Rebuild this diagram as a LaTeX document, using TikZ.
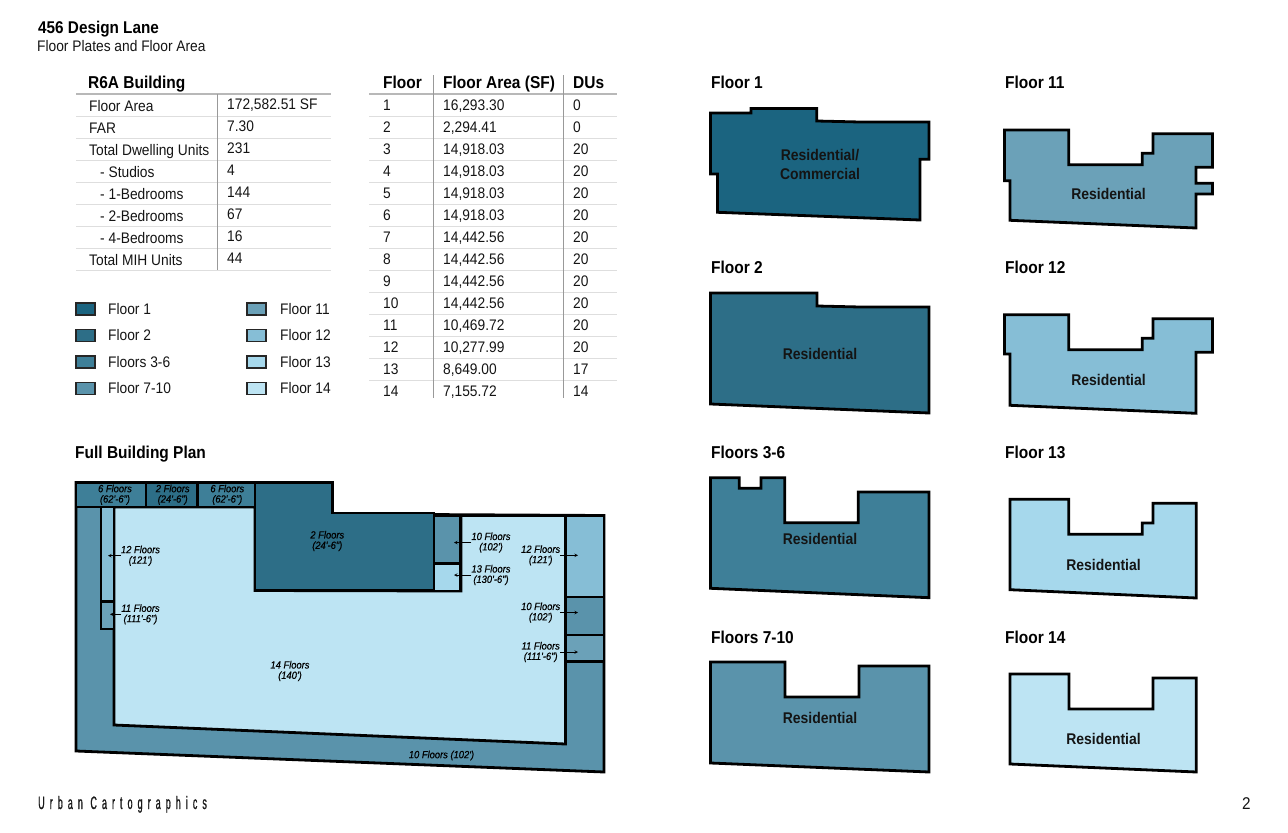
\documentclass[tikz,border=0pt]{standalone}
\usepackage{fontspec}
\setmainfont[FakeStretch=0.9]{Liberation Sans}
\newfontfamily\planfont[FakeStretch=0.9,FakeBold=0.5]{Liberation Sans}
\newfontfamily\footfont[LetterSpace=28,FakeStretch=0.5,FakeBold=0.8]{Liberation Sans}
\usepackage{tikz}
\usetikzlibrary{positioning}
\definecolor{fone}{HTML}{1B6480}
\definecolor{ftwo}{HTML}{2D6E87}
\definecolor{fthree}{HTML}{3E7F98}
\definecolor{fseven}{HTML}{5A93AB}
\definecolor{feleven}{HTML}{6BA1B8}
\definecolor{ftwelve}{HTML}{86BED6}
\definecolor{fthirteen}{HTML}{A6D8EC}
\definecolor{ffourteen}{HTML}{BDE4F3}
\newcommand{\fsz}[1]{\fontsize{#1bp}{#1bp}\selectfont}
\tikzstyle{plate}=[
  draw=black,line width=2.8bp
]
\tikzstyle{swatch}=[
  draw=black!85,line width=1.3bp
]
\tikzstyle{heading}=[
  anchor=base west,inner sep=0pt,font=\fsz{17.2}\bfseries,text=black
]
\tikzstyle{cell}=[
  anchor=base west,inner sep=0pt,font=\fsz{15.3},text=black!92
]
\tikzstyle{usage}=[
  inner sep=0pt,align=center,font=\fsz{15.5}\bfseries,text=black!92
]
\tikzstyle{height}=[
  inner sep=0pt,align=center,font=\fsz{10.4}\planfont\itshape,text=black
]
\tikzstyle{leader}=[
  ->,>=stealth,line width=0.6bp
]
\tikzstyle{rowrule}=[
  draw=black!13,line width=0.8bp
]
\tikzstyle{headrule}=[
  draw=black!28,line width=1.4bp
]
\tikzstyle{colrule}=[
  draw=black!40,line width=0.8bp
]
\begin{document}
\begin{tikzpicture}[x=1bp,y=-1bp]
  \useasboundingbox (0,0) rectangle (1288,833);

  % title
  \node (title) at (38,33) [heading,font=\fsz{17}\bfseries] {456 Design Lane};
  \node (subtitle) at (37,51.5) [cell] {Floor Plates and Floor Area};

  % summary table
  \node (summary) at (88,88.5) [heading] {R6A Building};
  \draw [headrule] (76,94) -- (331,94);
  \foreach \k in {116,138,...,270}
    \draw [rowrule] (76,\k) -- (331,\k);
  \draw [colrule] (217,94) -- (217,270);
  \foreach \lab/\val/\ind [count=\i from 0] in {
      Floor Area/172{,}582.51 SF/89, FAR/7.30/89, Total Dwelling Units/231/89,
      - Studios/4/100, - 1-Bedrooms/144/100, - 2-Bedrooms/67/100,
      - 4-Bedrooms/16/100, Total MIH Units/44/89} {
    \node (lab\i) at (\ind,111.7+22*\i) [cell] {\lab};
    \node (val\i) at (227,109.3+22*\i) [cell] {\val};
  }

  % floor table
  \node (hfloor) at (383,88.5) [heading] {Floor};
  \node (harea) at (443,88.5) [heading] {Floor Area (SF)};
  \node (hdu) at (573,88.5) [heading] {DUs};
  \draw [headrule] (369,94) -- (617,94);
  \foreach \k in {116,138,...,398}
    \draw [rowrule] (369,\k) -- (617,\k);
  \draw [colrule] (433,75) -- (433,398);
  \draw [colrule] (563,75) -- (563,398);
  \foreach \ar/\du [count=\i from 1] in {
      16{,}293.30/0, 2{,}294.41/0, 14{,}918.03/20, 14{,}918.03/20, 14{,}918.03/20,
      14{,}918.03/20, 14{,}442.56/20, 14{,}442.56/20, 14{,}442.56/20, 14{,}442.56/20,
      10{,}469.72/20, 10{,}277.99/20, 8{,}649.00/17, 7{,}155.72/14} {
    \node (fl\i) at (383,88.7+22*\i) [cell] {\i};
    \node (ar\i) at (443,88.7+22*\i) [cell] {\ar};
    \node (du\i) at (573,88.7+22*\i) [cell] {\du};
  }

  % legend
  \foreach \c/\lab [count=\i from 0] in {
      fone/Floor 1, ftwo/Floor 2, fthree/Floors 3-6, fseven/Floor 7-10} {
    \draw [swatch,fill=\c] (76,303+26.5*\i) rectangle (95,315+26.5*\i);
    \node (lega\i) at (108,314+26.5*\i) [cell] {\lab};
  }
  \foreach \c/\lab [count=\i from 0] in {
      feleven/Floor 11, ftwelve/Floor 12, fthirteen/Floor 13, ffourteen/Floor 14} {
    \draw [swatch,fill=\c] (247,303+26.5*\i) rectangle (266,315+26.5*\i);
    \node (legb\i) at (280,314+26.5*\i) [cell] {\lab};
  }

  % full building plan
  \node (planhead) at (75,458) [heading] {Full Building Plan};
  \draw [plate,fill=fseven] (76,482.5) -- (332.5,482.5) -- (332.5,514) -- (604,515.5)
    -- (604,772) -- (76,751) -- cycle;
  \draw [plate,fill=ffourteen] (114,507) -- (255,507) -- (255,590.5) -- (461,591)
    -- (461,515.5) -- (565.5,515.5) -- (565.5,744) -- (114,725) -- cycle;
  \draw [plate,fill=fthree] (76,482.5) rectangle (146,507);
  \draw [plate,fill=ftwo] (146,482.5) rectangle (197.5,507);
  \draw [plate,fill=fthree] (197.5,482.5) rectangle (255,507);
  \draw [plate,fill=ftwo] (255,482.5) -- (332.5,482.5) -- (332.5,513) -- (434,513)
    -- (434,590.5) -- (255,590.5) -- cycle;
  \draw [plate,fill=ftwelve] (101,507) rectangle (114,601.5);
  \draw [plate,fill=feleven] (101,601.5) rectangle (114,629);
  \draw [plate,fill=fseven] (434,516) rectangle (460.5,563.5);
  \draw [plate,fill=fthirteen] (434,563.5) rectangle (460.5,591);
  \draw [plate,fill=ftwelve] (565.5,515.5) rectangle (604,597);
  \draw [plate,fill=fseven] (565.5,597) rectangle (604,635);
  \draw [plate,fill=feleven] (565.5,635) rectangle (604,661.5);

  \node (hta) at (115,494.7) [height] {6 Floors\\(62'-6")};
  \node (htb) at (172.7,494.7) [height] {2 Floors\\(24'-6")};
  \node (htc) at (227.3,494.7) [height] {6 Floors\\(62'-6")};
  \node (htd) at (327.3,541) [height] {2 Floors\\(24'-6")};
  \node (hte) at (140.5,555.7) [height] {12 Floors\\(121')};
  \node (htf) at (140.5,614.3) [height] {11 Floors\\(111'-6")};
  \node (htg) at (491,542.5) [height] {10 Floors\\(102')};
  \node (hth) at (491,575) [height] {13 Floors\\(130'-6")};
  \node (hti) at (540.7,555.3) [height] {12 Floors\\(121')};
  \node (htj) at (540.7,612.5) [height] {10 Floors\\(102')};
  \node (htk) at (540.7,652) [height] {11 Floors\\(111'-6")};
  \node (htl) at (290,671) [height] {14 Floors\\(140')};
  \node (htm) at (441.5,755.5) [height] {10 Floors (102')};

  \coordinate (tipe) at (108,555.7);
  \coordinate (tipf) at (110,614.3);
  \coordinate (tipg) at (454,542.5);
  \coordinate (tiph) at (454,575);
  \coordinate (tipi) at (578,555.3);
  \coordinate (tipj) at (578,612.5);
  \coordinate (tipk) at (578,652);
  \draw [leader] (hte.west) -- (tipe);
  \draw [leader] (htf.west) -- (tipf);
  \draw [leader] (htg.west) -- (tipg);
  \draw [leader] (hth.west) -- (tiph);
  \draw [leader] (hti.east) -- (tipi);
  \draw [leader] (htj.east) -- (tipj);
  \draw [leader] (htk.east) -- (tipk);

  % floor plates, left column
  \node (hone) at (711,88.3) [heading] {Floor 1};
  \draw [plate,fill=fone] (710.5,113) -- (751,113) -- (751,108.5) -- (816.7,108.5)
    -- (816.7,121) -- (860,122) -- (929,122) -- (929,159.3) -- (920,159.3)
    -- (920,220) -- (717.5,212.3) -- (717.5,174) -- (710.5,174) -- cycle;
  \node (uone) at (820,164.5) [usage] {Residential/\\[3bp]Commercial};

  \node (htwo) at (711,273.5) [heading] {Floor 2};
  \draw [plate,fill=ftwo] (710.5,293) -- (817,293) -- (817,306) -- (860,307)
    -- (929,307) -- (929,413) -- (710.5,404) -- cycle;
  \node (utwo) at (820,353.5) [usage] {Residential};

  \node (hthree) at (711,458) [heading] {Floors 3-6};
  \draw [plate,fill=fthree] (710.5,477.7) -- (739.3,477.7) -- (739.3,488.3) -- (761,488.3)
    -- (761,477.7) -- (784.7,477.7) -- (784.7,522.7) -- (858.3,522.7) -- (858.3,492)
    -- (929,492) -- (929,597.7) -- (710.5,588.3) -- cycle;
  \node (uthree) at (820,538.5) [usage] {Residential};

  \node (hseven) at (711,643) [heading] {Floors 7-10};
  \draw [plate,fill=fseven] (710.5,662) -- (785,662) -- (785,697) -- (859,697)
    -- (859,666) -- (929,666) -- (929,772) -- (710.5,763) -- cycle;
  \node (useven) at (820,718) [usage] {Residential};

  % floor plates, right column
  \node (heleven) at (1005,88.3) [heading] {Floor 11};
  \draw [plate,fill=feleven] (1004.5,130) -- (1068.7,130) -- (1068.7,164.7) -- (1142.3,164.7)
    -- (1142.3,153.3) -- (1153,153.3) -- (1153,133.7) -- (1212.5,133.7) -- (1212.5,167.3)
    -- (1196,167.3) -- (1196,183.3) -- (1212.5,183.3) -- (1212.5,194) -- (1196,194)
    -- (1196,228) -- (1010,220.3) -- (1010,180.7) -- (1004.5,180.7) -- cycle;
  \node (ueleven) at (1108.5,194) [usage] {Residential};

  \node (htwelve) at (1005,273.5) [heading] {Floor 12};
  \draw [plate,fill=ftwelve] (1004.5,314.7) -- (1068.7,314.7) -- (1068.7,349.7) -- (1142.3,349.7)
    -- (1142.3,338.3) -- (1153,338.3) -- (1153,318.7) -- (1212.5,318.7) -- (1212.5,352.3)
    -- (1196,352.3) -- (1196,413.3) -- (1010,405.3) -- (1010,354) -- (1004.5,354) -- cycle;
  \node (utwelve) at (1108.5,379.5) [usage] {Residential};

  \node (hthirteen) at (1005,458) [heading] {Floor 13};
  \draw [plate,fill=fthirteen] (1010,499.3) -- (1068.7,499.3) -- (1068.7,534.3) -- (1142.3,534.3)
    -- (1142.3,523) -- (1153,523) -- (1153,503.3) -- (1196.3,503.3) -- (1196.3,598)
    -- (1010,589.7) -- cycle;
  \node (uthirteen) at (1103.5,564.5) [usage] {Residential};

  \node (hfourteen) at (1005,643) [heading] {Floor 14};
  \draw [plate,fill=ffourteen] (1010,674) -- (1069,674) -- (1069,709) -- (1153,709)
    -- (1153,678) -- (1196.3,678) -- (1196.3,772) -- (1010,764) -- cycle;
  \node (ufourteen) at (1103.5,738.5) [usage] {Residential};

  % footer
  \node (brand) at (38,809) [anchor=base west,inner sep=0pt,font=\fsz{18}\footfont,text=black!90] {Urban Cartographics};
  \node (pageno) at (1242,809) [cell,font=\fsz{17}] {2};
\end{tikzpicture}
\end{document}
